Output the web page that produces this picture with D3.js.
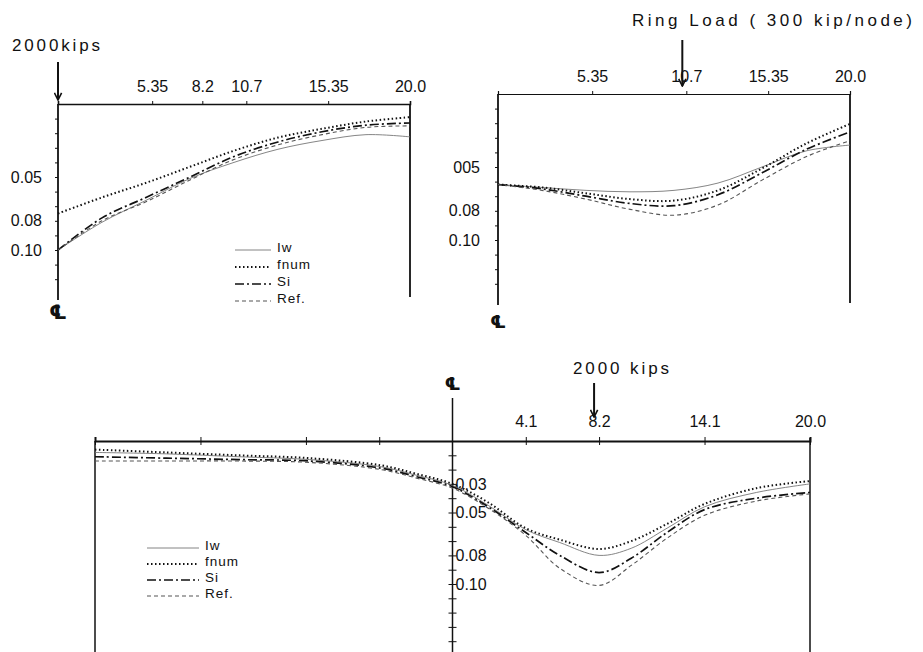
<!DOCTYPE html>
<html>
<head>
<meta charset="utf-8">
<script src="https://cdn.jsdelivr.net/npm/d3@7"></script>
<style>
	body { margin: 0; background: #fff; }
	svg { display: block; }
	text { font-family: "Liberation Sans", Arial, sans-serif; fill: #111; }
	.axis text { font-size: 16px; }
	.axis line, .axis path { stroke: #111; }
</style>
</head>
<body>
<div id="graphicContainer"></div>
<script>
// ---- data (span position, deflection) ----
var seriesNames = ["Iw", "fnum", "Si", "Ref."]

// panel A : 2000 kips at centre line
var xA = [0, 2.5, 5, 7.5, 10, 12.5, 15, 17.5, 20]
var iwA   = [0.100, 0.081, 0.066, 0.051, 0.040, 0.031, 0.025, 0.021, 0.0225]
var fnumA = [0.075, 0.064, 0.054, 0.043, 0.032, 0.023, 0.017, 0.012, 0.009]
var siA   = [0.100, 0.078, 0.064, 0.050, 0.036, 0.026, 0.019, 0.0145, 0.013]
var refA  = [0.100, 0.080, 0.067, 0.052, 0.038, 0.028, 0.021, 0.016, 0.015]
var ticksA = [5.35, 8.2, 10.7, 15.35, 20.0]
var yLabelsA = [0.05, 0.08, 0.10]

// panel B : ring load 300 kip/node
var xB = [0, 2.5, 5, 7.5, 10, 12.5, 15, 17.5, 20]
var iwB   = [0.062, 0.064, 0.066, 0.067, 0.066, 0.061, 0.050, 0.039, 0.035]
var fnumB = [0.062, 0.064, 0.068, 0.072, 0.073, 0.066, 0.051, 0.034, 0.0205]
var siB   = [0.062, 0.065, 0.070, 0.075, 0.0765, 0.069, 0.054, 0.038, 0.026]
var refB  = [0.062, 0.066, 0.072, 0.079, 0.083, 0.076, 0.059, 0.043, 0.032]
var ticksB = [5.35, 10.7, 15.35, 20.0]
var yLabelsB = ["005", "0.08", "0.10"]

// panel C : 2000 kips at 8.2
var xC = [-20, -16, -12, -8, -4, -2, 0, 2, 4.1, 6, 8.2, 10, 12, 14.1, 17, 20]
var iwC   = [0.008, 0.009, 0.011, 0.013, 0.018, 0.024, 0.031, 0.045, 0.062, 0.071, 0.080, 0.075, 0.061, 0.046, 0.036, 0.030]
var fnumC = [0.006, 0.008, 0.010, 0.012, 0.017, 0.023, 0.030, 0.043, 0.061, 0.069, 0.0755, 0.070, 0.058, 0.044, 0.033, 0.028]
var siC   = [0.011, 0.012, 0.013, 0.014, 0.019, 0.025, 0.032, 0.046, 0.064, 0.080, 0.092, 0.082, 0.064, 0.048, 0.040, 0.036]
var refC  = [0.014, 0.014, 0.014, 0.015, 0.020, 0.026, 0.033, 0.047, 0.066, 0.089, 0.101, 0.087, 0.068, 0.052, 0.042, 0.037]
var ticksC = [-20, -14.1, -8.2, -4.1, 4.1, 8.2, 14.1, 20.0]
var yLabelsC = [0.03, 0.05, 0.08, 0.10]

var styles = {
	"Iw":   {dash: null, width: 0.9, color: "#777"},
	"fnum": {dash: "1.5,2.5", width: 2, color: "#111"},
	"Si":   {dash: "9,3,2,3", width: 1.7, color: "#111"},
	"Ref.": {dash: "4,3", width: 1.1, color: "#555"}
}

function init() {
	var width = 923, height = 652
	var svg = d3.select("#graphicContainer").append("svg")
		.attr("width", width)
		.attr("height", height)

	svg.append("defs").append("marker")
		.attr("id", "arrow")
		.attr("viewBox", "0 0 10 10")
		.attr("refX", 9).attr("refY", 5)
		.attr("markerWidth", 9).attr("markerHeight", 9)
		.attr("markerUnits", "userSpaceOnUse")
		.attr("orient", "auto")
		.append("path")
		.attr("d", "M1,1 L9,5 L1,9")
		.attr("fill", "none")
		.attr("stroke", "#111")
		.attr("stroke-width", 1.8)

	function fmt(d) { return d3.format(".2f")(d) }

	function drawCurves(g, x, y, xs, sets) {
		var line = d3.line()
			.x(function(d) { return x(d[0]) })
			.y(function(d) { return y(d[1]) })
			.curve(d3.curveCatmullRom.alpha(0.5))
		sets.forEach(function(vals, i) {
			var st = styles[seriesNames[i]]
			g.append("path")
				.datum(xs.map(function(v, j) { return [v, vals[j]] }))
				.attr("d", line)
				.attr("fill", "none")
				.attr("stroke", st.color)
				.attr("stroke-width", st.width)
				.attr("stroke-dasharray", st.dash)
		})
	}

	function drawLegend(g, x0, lineLen, ys, fontSize) {
		seriesNames.forEach(function(name, i) {
			var st = styles[name]
			g.append("line")
				.attr("x1", x0).attr("x2", x0 + lineLen)
				.attr("y1", ys[i] + 3).attr("y2", ys[i] + 3)
				.attr("stroke", st.color)
				.attr("stroke-width", st.width)
				.attr("stroke-dasharray", st.dash)
			g.append("text")
				.attr("x", x0 + lineLen + 6)
				.attr("y", ys[i])
				.attr("dy", "0.35em")
				.style("font-size", fontSize + "px")
				.style("letter-spacing", "1px")
				.text(name)
		})
	}

	function clMark(g, cx, cy, size) {
		g.append("text")
			.attr("x", cx).attr("y", cy)
			.attr("text-anchor", "middle")
			.attr("dy", "0.35em")
			.style("font-family", "DejaVu Sans")
			.style("font-size", size + "px")
			.style("font-weight", "bold")
			.text("\u2104")
	}

	function arrow(g, ax, y1, y2) {
		g.append("line")
			.attr("x1", ax).attr("x2", ax)
			.attr("y1", y1).attr("y2", y2)
			.attr("stroke", "#111")
			.attr("stroke-width", 2)
			.attr("marker-end", "url(#arrow)")
	}

	function xLabel(d) { return d == 20 ? "20.0" : String(d) }

	// ---------- panel A ----------
	var gA = svg.append("g")
	var xa = d3.scaleLinear().domain([0, 20]).range([58, 410])
	var ya = d3.scaleLinear().domain([0, 0.13]).range([104, 104 + 0.13 * 1460])

	gA.append("g").attr("class", "axis")
		.attr("transform", "translate(0," + ya(0) + ")")
		.call(d3.axisTop(xa).tickValues(ticksA).tickSize(3).tickPadding(9).tickFormat(xLabel))
		.call(function(s) { s.select(".domain").attr("stroke-width", 1.6) })
	gA.append("g").attr("class", "axis")
		.attr("transform", "translate(" + xa(0) + ",0)")
		.call(d3.axisLeft(ya).tickValues(d3.range(0.01, 0.125, 0.01)).tickSize(3).tickFormat(""))
		.call(function(s) { s.select(".domain").remove() })
	gA.append("g").attr("class", "axis")
		.attr("transform", "translate(" + xa(0) + ",0)")
		.call(d3.axisLeft(ya).tickValues(yLabelsA).tickSize(0).tickPadding(16).tickFormat(fmt))
		.call(function(s) { s.select(".domain").remove() })
	gA.append("line").attr("x1", xa(0)).attr("x2", xa(0)).attr("y1", ya(0)).attr("y2", 300).attr("stroke", "#111").attr("stroke-width", 1.8)
	gA.append("line").attr("x1", xa(20)).attr("x2", xa(20)).attr("y1", ya(0)).attr("y2", 297).attr("stroke", "#111").attr("stroke-width", 1.8)
	drawCurves(gA, xa, ya, xA, [iwA, fnumA, siA, refA])
	drawLegend(gA, 235, 36, [247, 264, 281, 298], 13.5)
	arrow(gA, xa(0), 62, 100)
	gA.append("text").attr("x", 12).attr("y", 51).attr("textLength", 88).style("font-size", "17px").text("2000kips")
	clMark(gA, xa(0), 312, 20)

	// ---------- panel B ----------
	var gB = svg.append("g")
	var xb = d3.scaleLinear().domain([0, 20]).range([498, 850])
	var yb = d3.scaleLinear().domain([0, 0.14]).range([94, 94 + 0.14 * 1460])

	gB.append("g").attr("class", "axis")
		.attr("transform", "translate(0," + yb(0) + ")")
		.call(d3.axisTop(xb).tickValues(ticksB).tickSize(3).tickPadding(9).tickFormat(xLabel))
		.call(function(s) { s.select(".domain").attr("stroke-width", 1.2) })
	gB.append("g").attr("class", "axis")
		.attr("transform", "translate(" + xb(0) + ",0)")
		.call(d3.axisLeft(yb).tickValues(d3.range(0.01, 0.135, 0.01)).tickSize(3).tickFormat(""))
		.call(function(s) { s.select(".domain").remove() })
	gB.append("g").attr("class", "axis")
		.attr("transform", "translate(" + xb(0) + ",0)")
		.call(d3.axisLeft(yb).tickValues([0.05, 0.08, 0.10]).tickSize(0).tickPadding(18).tickFormat(function(d, i) { return yLabelsB[i] }))
		.call(function(s) { s.select(".domain").remove() })
	gB.append("line").attr("x1", xb(0)).attr("x2", xb(0)).attr("y1", yb(0)).attr("y2", 305).attr("stroke", "#111").attr("stroke-width", 1.8)
	gB.append("line").attr("x1", xb(20)).attr("x2", xb(20)).attr("y1", yb(0)).attr("y2", 303).attr("stroke", "#111").attr("stroke-width", 1.8)
	drawCurves(gB, xb, yb, xB, [iwB, fnumB, siB, refB])
	arrow(gB, xb(10.7) - 4, 40, 86)
	gB.append("text").attr("x", 632).attr("y", 26).attr("textLength", 280).style("font-size", "17px").text("Ring  Load ( 300 kip/node)")
	clMark(gB, xb(0), 322, 18)

	// ---------- panel C ----------
	var gC = svg.append("g")
	var xc = d3.scaleLinear().domain([-20, 20]).range([95, 810])
	var yc = d3.scaleLinear().domain([0, 0.15]).range([441, 441 + 0.15 * 1430])

	gC.append("g").attr("class", "axis")
		.attr("transform", "translate(0," + yc(0) + ")")
		.call(d3.axisTop(xc).tickValues(ticksC).tickSize(4).tickPadding(10).tickFormat(function(d) { return d < 0 ? "" : xLabel(d) }))
		.call(function(s) { s.select(".domain").attr("stroke-width", 2); s.selectAll(".tick line").attr("y1", 4) })
	gC.append("g").attr("class", "axis")
		.attr("transform", "translate(" + xc(0) + ",0)")
		.call(d3.axisLeft(yc).tickValues(d3.range(0.01, 0.145, 0.01)).tickSize(4).tickFormat(""))
		.call(function(s) { s.selectAll(".tick line").attr("x2", 4).attr("x1", -4); s.select(".domain").remove() })
	gC.append("g").attr("class", "axis")
		.attr("transform", "translate(" + xc(0) + ",0)")
		.call(d3.axisRight(yc).tickValues(yLabelsC).tickSize(0).tickPadding(3).tickFormat(fmt))
		.call(function(s) { s.select(".domain").remove() })
	gC.append("line").attr("x1", xc(0)).attr("x2", xc(0)).attr("y1", 398).attr("y2", 652).attr("stroke", "#111").attr("stroke-width", 1.5)
	gC.append("line").attr("x1", xc(-20)).attr("x2", xc(-20)).attr("y1", yc(0)).attr("y2", 652).attr("stroke", "#111").attr("stroke-width", 1.5)
	gC.append("line").attr("x1", xc(20)).attr("x2", xc(20)).attr("y1", yc(0) - 3).attr("y2", 652).attr("stroke", "#111").attr("stroke-width", 1.5)
	drawCurves(gC, xc, yc, xC, [iwC, fnumC, siC, refC])
	drawLegend(gC, 147, 52, [545, 561, 577, 593], 13.5)
	arrow(gC, xc(8.2) - 5, 383, 417)
	gC.append("text").attr("x", 573).attr("y", 374).attr("textLength", 96).style("font-size", "17px").text("2000 kips")
	clMark(gC, xc(0), 384, 18)
}

init()
</script>
</body>
</html>
